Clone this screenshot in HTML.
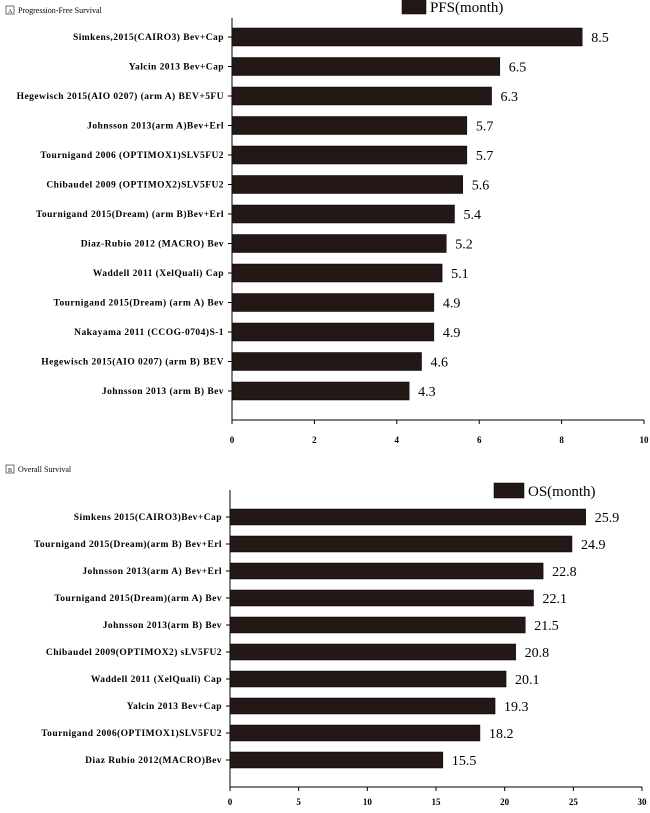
<!DOCTYPE html>
<html><head><meta charset="utf-8"><style>
body{margin:0;background:#fff;width:650px;height:808px;overflow:hidden}
svg text{font-family:"Liberation Serif",serif}
</style></head><body>
<svg id="c" width="650" height="808" xmlns="http://www.w3.org/2000/svg">
<rect x="6" y="6" width="8" height="8" fill="none" stroke="#333" stroke-width="0.7"/>
<text x="8" y="13" font-size="6">A</text>
<text x="18" y="13" font-size="8">Progression-Free Survival</text>
<rect x="6" y="465" width="8" height="8" fill="none" stroke="#333" stroke-width="0.7"/>
<text x="8" y="472" font-size="6">B</text>
<text x="18" y="472" font-size="8">Overall Survival</text>
</svg>
<script>
const pfsLabels=["Simkens,2015(CAIRO3) Bev+Cap","Yalcin 2013 Bev+Cap","Hegewisch 2015(AIO 0207) (arm A) BEV+5FU","Johnsson 2013(arm A)Bev+Erl","Tournigand 2006 (OPTIMOX1)SLV5FU2","Chibaudel 2009 (OPTIMOX2)SLV5FU2","Tournigand 2015(Dream) (arm B)Bev+Erl","Diaz-Rubio 2012 (MACRO) Bev","Waddell  2011  (XelQuali) Cap","Tournigand 2015(Dream) (arm A) Bev","Nakayama 2011 (CCOG-0704)S-1","Hegewisch 2015(AIO 0207) (arm B) BEV","Johnsson 2013 (arm B) Bev"];
const pfsValues=[8.5,6.5,6.3,5.7,5.7,5.6,5.4,5.2,5.1,4.9,4.9,4.6,4.3];
const pfsTicks=[0,2,4,6,8,10];
const osLabels=["Simkens 2015(CAIRO3)Bev+Cap","Tournigand 2015(Dream)(arm B) Bev+Erl","Johnsson 2013(arm A) Bev+Erl","Tournigand 2015(Dream)(arm A) Bev","Johnsson 2013(arm B) Bev","Chibaudel 2009(OPTIMOX2) sLV5FU2","Waddell  2011 (XelQuali) Cap","Yalcin 2013 Bev+Cap","Tournigand 2006(OPTIMOX1)SLV5FU2","Diaz Rubio 2012(MACRO)Bev"];
const osValues=[25.9,24.9,22.8,22.1,21.5,20.8,20.1,19.3,18.2,15.5];
const osTicks=[0,5,10,15,20,25,30];
const svg=document.getElementById('c');
const NS="http://www.w3.org/2000/svg";
function mk(t,a,p){const e=document.createElementNS(NS,t);for(const k in a)e.setAttribute(k,a[k]);(p||svg).appendChild(e);return e;}
function panel(cfg,labels,values,ticks){
  const g=mk('g',{});
  
  
  const xs=v=>cfg.x0+(v-ticks[0])/(ticks[ticks.length-1]-ticks[0])*(cfg.x1-cfg.x0);
  const ys=i=>cfg.yFirst+i*cfg.pitch;
  const yax=mk('line',{x1:cfg.x0,x2:cfg.x0,y1:cfg.yTop,y2:cfg.yAxis,stroke:'#000','stroke-width':1},g);
  
  
  const xax=mk('line',{x1:cfg.x0,x2:cfg.x1,y1:cfg.yAxis,y2:cfg.yAxis,stroke:'#000','stroke-width':1},g);
  
  
  ticks.forEach(t=>{
    mk('line',{x1:xs(t),x2:xs(t),y1:cfg.yAxis,y2:cfg.yAxis+4,stroke:'#000'},g);
    const tl=mk('text',{x:xs(t),y:cfg.yAxis+cfg.tickOff,'font-size':9,'font-weight':'bold','text-anchor':'middle'},g);
    tl.textContent=t;
    
    
  });
  values.forEach((v,i)=>{
    const y=ys(i);
    const b=mk('rect',{x:xs(0),y:y-cfg.bh/2,width:xs(v)-xs(0),height:cfg.bh,fill:'#231816',stroke:'#000','stroke-width':0.5},g);
    
    
    mk('line',{x1:cfg.x0-4,x2:cfg.x0,y1:y,y2:y,stroke:'#000'},g);
    const l=mk('text',{x:cfg.x0-8,y:y+3,'font-size':9.5,'font-weight':'bold','letter-spacing':0.45,'text-anchor':'end'},g);
    l.textContent=labels[i];
    
    
    const vl=mk('text',{x:xs(v)+9,y:y+5,'font-size':14},g);
    vl.textContent=v;
    
    
  });
  const lr=mk('rect',{x:cfg.lx,y:cfg.ly,width:cfg.lw,height:15,fill:'#231816',stroke:'#000','stroke-width':0.5},g);
  
  
  const lt=mk('text',{x:cfg.lx+cfg.lw+4,y:cfg.ly+13,'font-size':15},g);
  lt.textContent=cfg.legend;
  
  
}
panel({name:'pfs-panel',x0:232,x1:644,yTop:18,yAxis:420,yFirst:37,pitch:29.5,bh:18,tickOff:23,lx:402,ly:-1,lw:24,legend:'PFS(month)'},pfsLabels,pfsValues,pfsTicks);
panel({name:'os-panel',x0:230,x1:642,yTop:490,yAxis:787,yFirst:517,pitch:27,bh:16,tickOff:18,lx:494,ly:483,lw:30,legend:'OS(month)'},osLabels,osValues,osTicks);
</script>
</body></html>
